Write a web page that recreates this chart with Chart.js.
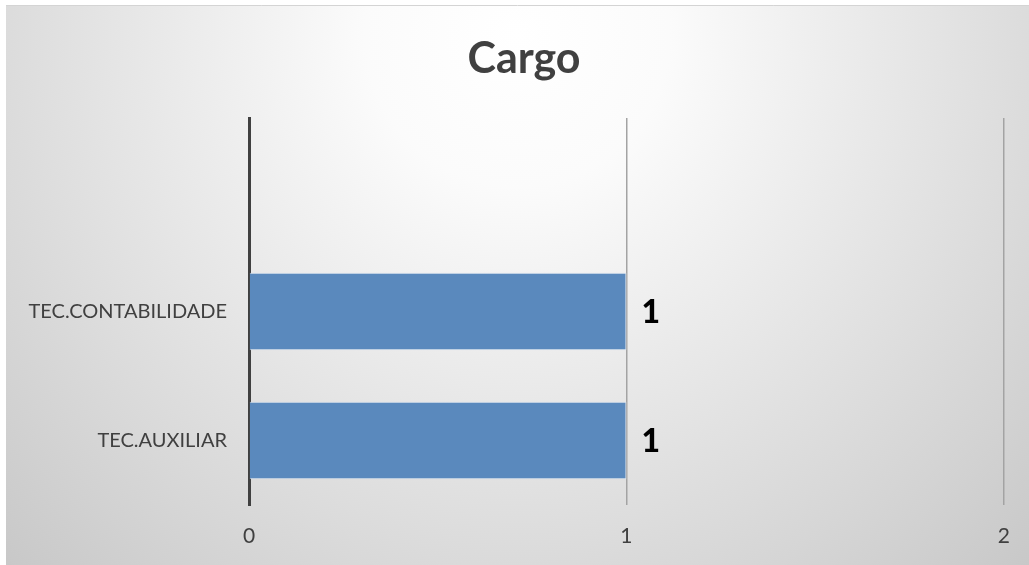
<!DOCTYPE html>
<html>
<head>
<meta charset="utf-8">
<script src="https://cdn.jsdelivr.net/npm/chart.js@4"></script>
<style>
  html, body { margin: 0; padding: 0; background: #ffffff; }
  #wrap { position: absolute; left: 6px; top: 5px; width: 1023px; height: 560px; }
</style>
</head>
<body>
<div id="wrap"><canvas id="cargoChart"></canvas></div>
<script>
// chart data
const categories = ["", "TEC.CONTABILIDADE", "TEC.AUXILIAR"];
const counts = [null, 1, 1];
const xTicks = ["0", "1", "2"];
const chartTitle = "Cargo";

const fontFamily = "Lato, 'Open Sans', sans-serif";
const ctx = document.getElementById('cargoChart').getContext('2d');

// grey radial backdrop like the spreadsheet chart
const backdrop = {
  id: 'backdrop',
  beforeDraw(chart) {
    const c = chart.ctx;
    const w = chart.width, h = chart.height;
    const g = c.createRadialGradient(w / 2, 30, 0, w / 2, 30, 760);
    g.addColorStop(0, '#ffffff');
    g.addColorStop(0.2, '#fbfbfb');
    g.addColorStop(1, '#c6c6c6');
    c.save();
    c.fillStyle = g;
    c.fillRect(0, 0, w, h);
    c.strokeStyle = '#d4d4d4';
    c.lineWidth = 1;
    c.beginPath();
    c.moveTo(0, 0.5);
    c.lineTo(w, 0.5);
    c.stroke();
    c.restore();
  }
};

// title, sitting a bit right of the canvas centre like the original
const titleText = {
  id: 'titleText',
  afterDraw(chart) {
    const c = chart.ctx;
    c.save();
    c.font = "bold 43px " + fontFamily;
    c.fillStyle = '#404040';
    c.textAlign = 'center';
    c.textBaseline = 'middle';
    c.fillText(chartTitle, 518, 54);
    c.restore();
  }
};

// value labels to the right of the bars
const valueLabels = {
  id: 'valueLabels',
  afterDatasetsDraw(chart) {
    const c = chart.ctx;
    const meta = chart.getDatasetMeta(0);
    c.save();
    c.font = "900 32px " + fontFamily;
    c.fillStyle = '#000000';
    c.textAlign = 'left';
    c.textBaseline = 'middle';
    meta.data.forEach(function(bar, i) {
      if (counts[i] === null) return;
      c.fillText(String(counts[i]), bar.x + 15, bar.y + 1);
    });
    c.restore();
  }
};

const cargoChart = new Chart(ctx, {
  type: 'bar',
  data: {
    labels: categories,
    datasets: [{
      data: counts,
      backgroundColor: '#5a89bd',
      borderColor: 'rgba(220,230,242,0.9)',
      borderWidth: 1,
      borderSkipped: 'left',
      barPercentage: 0.6,
      categoryPercentage: 1.0
    }]
  },
  options: {
    indexAxis: 'y',
    responsive: true,
    maintainAspectRatio: false,
    animation: false,
    layout: {
      padding: { left: 0, right: 25, top: 113, bottom: 0 }
    },
    scales: {
      x: {
        min: 0,
        max: 2,
        ticks: {
          stepSize: 1,
          padding: 19,
          color: '#404040',
          font: { family: fontFamily, size: 21 },
          callback: function(v, i) { return xTicks[i]; }
        },
        grid: {
          drawTicks: false,
          lineWidth: 1.5,
          color: function(c) { return c.index === 0 ? 'rgba(0,0,0,0)' : '#a3a3a3'; }
        },
        border: { display: false },
        afterFit: function(scale) { scale.height = 60; }
      },
      y: {
        ticks: {
          padding: 22,
          color: '#404040',
          font: { family: fontFamily, size: 20 }
        },
        grid: { display: false, drawTicks: false },
        border: { display: true, color: '#404040', width: 3 },
        afterFit: function(scale) { scale.width = 243; }
      }
    },
    plugins: {
      legend: { display: false },
      tooltip: { enabled: false },
      title: { display: false }
    }
  },
  plugins: [backdrop, valueLabels, titleText]
});
</script>
</body>
</html>
